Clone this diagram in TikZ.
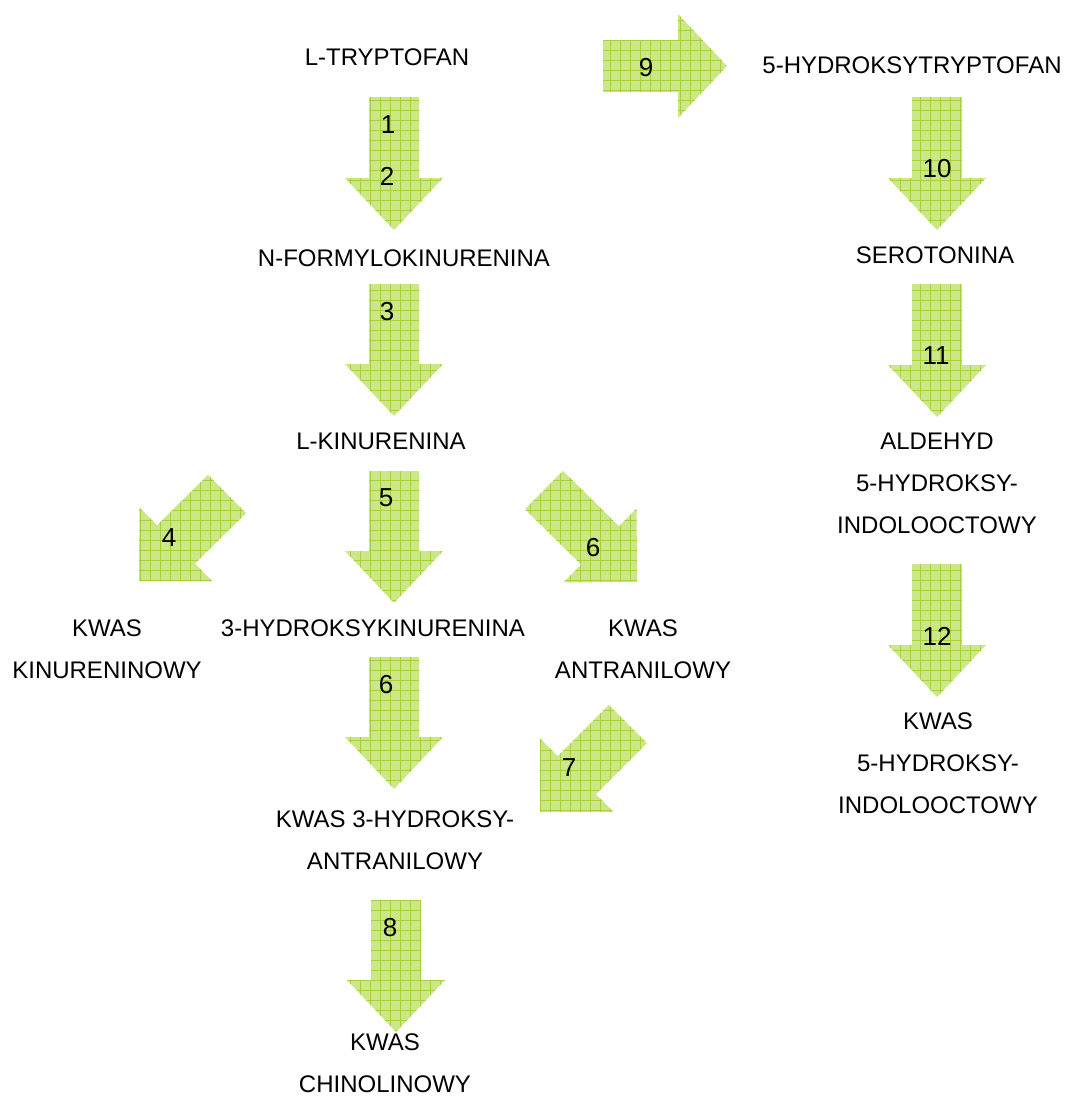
\documentclass[tikz,border=0pt]{standalone}
\usepackage{fontspec}
\setmainfont{Liberation Sans}
\usetikzlibrary{calc}
\definecolor{afill}{RGB}{204,231,136}
\definecolor{agrid}{RGB}{166,208,60}
\tikzset{
  lbl/.style={font=\fontsize{24}{42}\selectfont, align=center, inner sep=0pt},
  num/.style={font=\fontsize{26}{30}\selectfont, inner sep=0pt},
  gridline/.style={agrid, line width=1pt}
}
% #1 tail, #2 tip, #3 shaft half width, #4 head half width, #5 head length
\newcommand\grarrow[5]{%
  \coordinate (#1hb) at ($(#2)!#5!(#1)$);
  \fill[afill] ($(#1)!#3!90:(#2)$) -- ($(#1hb)!#3!-90:(#1)$) -- ($(#1hb)!#4!-90:(#1)$) -- (#2) -- ($(#1hb)!#4!90:(#1)$) -- ($(#1hb)!#3!90:(#1)$) -- ($(#1)!#3!-90:(#2)$) -- cycle;
  \begin{scope}
    \clip ($(#1)!#3!90:(#2)$) -- ($(#1hb)!#3!-90:(#1)$) -- ($(#1hb)!#4!-90:(#1)$) -- (#2) -- ($(#1hb)!#4!90:(#1)$) -- ($(#1hb)!#3!90:(#1)$) -- ($(#1)!#3!-90:(#2)$) -- cycle;
    \draw[gridline] (0,0) grid[step=10pt] (1071,1109);
  \end{scope}}
\begin{document}
\begin{tikzpicture}[x=1pt,y=-1pt]
\useasboundingbox (0,0) rectangle (1071,1109);
% arrow end points
\coordinate (a1) at (394,97);   \coordinate (b1) at (394,230);
\coordinate (a3) at (394,284);  \coordinate (b3) at (394,416);
\coordinate (a5) at (394,471);  \coordinate (b5) at (394,603);
\coordinate (a6) at (394,657);  \coordinate (b6) at (394,789);
\coordinate (a8) at (396,900);  \coordinate (b8) at (396,1032);
\coordinate (a10) at (937,97);  \coordinate (b10) at (937,230);
\coordinate (a11) at (937,284); \coordinate (b11) at (937,417);
\coordinate (a12) at (937,564); \coordinate (b12) at (937,697);
\coordinate (a9) at (603,66);   \coordinate (b9) at (727,66);
\coordinate (a4) at (227,494);  \coordinate (b4) at (139,581);
\coordinate (a6d) at (544,490); \coordinate (b6d) at (637,582);
\coordinate (a7) at (628,724);  \coordinate (b7) at (540,812);

\grarrow{a1}{b1}{25pt}{49pt}{52pt}
\grarrow{a3}{b3}{25pt}{49pt}{52pt}
\grarrow{a5}{b5}{25pt}{49pt}{52pt}
\grarrow{a6}{b6}{25pt}{49pt}{52pt}
\grarrow{a8}{b8}{25pt}{49pt}{52pt}
\grarrow{a10}{b10}{25pt}{49pt}{52pt}
\grarrow{a11}{b11}{25pt}{49pt}{52pt}
\grarrow{a12}{b12}{25pt}{49pt}{52pt}
\grarrow{a9}{b9}{26pt}{52pt}{49pt}
\grarrow{a4}{b4}{27pt}{52pt}{52pt}
\grarrow{a6d}{b6d}{27pt}{52pt}{52pt}
\grarrow{a7}{b7}{27pt}{52pt}{52pt}

% numbers
\node[num] (n1) at (388,125) {1};
\node[num] (n2) at (387,176) {2};
\node[num] (n3) at (387,312) {3};
\node[num] (n5) at (386,498) {5};
\node[num] (n6) at (386,685) {6};
\node[num] (n8) at (390,928) {8};
\node[num] (n10) at (937,169) {10};
\node[num] (n11) at (936,356) {11};
\node[num] (n12) at (937,636) {12};
\node[num] (n9) at (646,68) {9};
\node[num] (n4) at (169,538) {4};
\node[num] (n6d) at (593,548) {6};
\node[num] (n7) at (569,768) {7};

% labels
\node[lbl] (trp) at (387,57) {L-TRYPTOFAN};
\node[lbl] (htrp) at (912,65) {5-HYDROKSYTRYPTOFAN};
\node[lbl] (nfk) at (404,258) {N-FORMYLOKINURENINA};
\node[lbl] (ser) at (935,255) {SEROTONINA};
\node[lbl] (lk) at (381,441) {L-KINURENINA};
\node[lbl] (ald) at (937,483) {ALDEHYD\\5-HYDROKSY-\\INDOLOOCTOWY};
\node[lbl] (kk) at (107,649) {KWAS\\KINURENINOWY};
\node[lbl] (hk) at (373,628) {3-HYDROKSYKINURENINA};
\node[lbl] (ka) at (643,649) {KWAS\\ANTRANILOWY};
\node[lbl] (khi) at (938,763) {KWAS\\5-HYDROKSY-\\INDOLOOCTOWY};
\node[lbl] (kha) at (395,840) {KWAS 3-HYDROKSY-\\ANTRANILOWY};
\node[lbl] (kch) at (385,1063) {KWAS\\CHINOLINOWY};
\end{tikzpicture}
\end{document}
